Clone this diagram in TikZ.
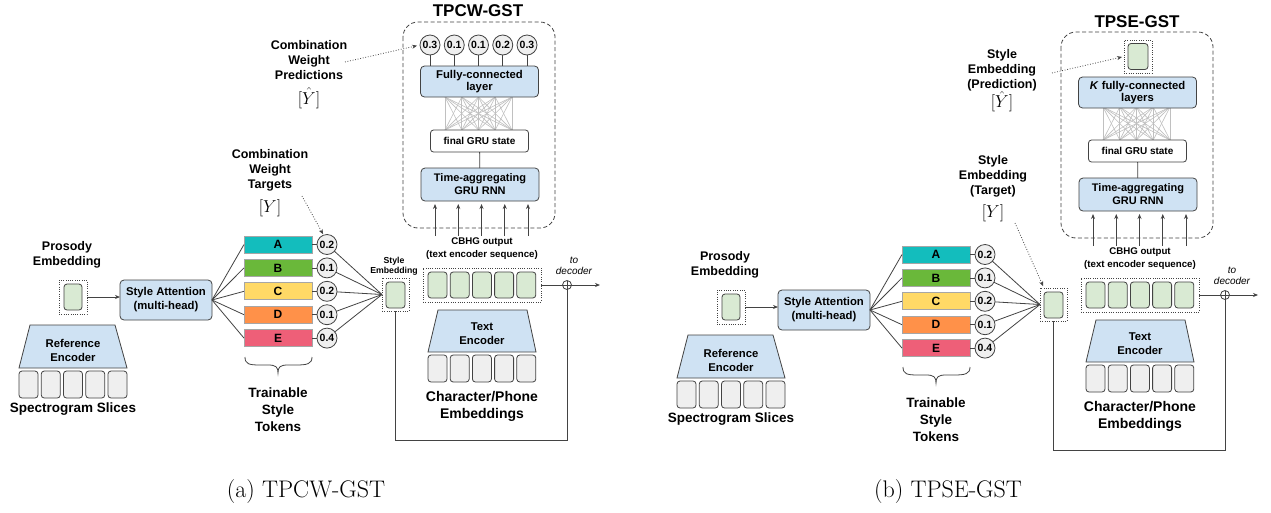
\documentclass[tikz,border=0pt]{standalone}
\usepackage[no-math]{fontspec}
\newfontfamily\af{Liberation Sans}
\usetikzlibrary{arrows.meta}
\newcommand\setfs[2]{\fontsize{#1}{#2}\selectfont}
\definecolor{emb}{HTML}{D9EAD3}
\definecolor{blu}{HTML}{CFE2F3}
\definecolor{slc}{HTML}{EFEFEF}
\definecolor{edge}{HTML}{434343}
\definecolor{tokA}{HTML}{13BDBD}
\definecolor{tokB}{HTML}{6AB83A}
\definecolor{tokC}{HTML}{FFD966}
\definecolor{tokD}{HTML}{FF9149}
\definecolor{tokE}{HTML}{EE5F78}
\definecolor{meshc}{HTML}{C0C0C0}
\tikzset{
 every node/.style={inner sep=0pt, outer sep=0pt},
 lab/.style={align=center, text=black},
 mathlab/.style={anchor=base, font=\setfs{16}{18}},
 embbox/.style={draw=edge, fill=emb, rounded corners=3pt, minimum width=19pt, minimum height=26pt, line width=0.8pt},
 slicebox/.style={draw=edge, fill=slc, rounded corners=3pt, minimum width=19pt, minimum height=27pt, line width=0.8pt},
 dotbox/.style={draw=edge, dash pattern=on 0.7pt off 1.6pt, line width=0.7pt},
 bluebox/.style={draw=edge, fill=blu, rounded corners=4pt, line width=0.8pt, align=center},
 tokbox/.style={draw=gray!70, fill=#1, minimum width=68pt, minimum height=17pt, line width=0.9pt, font=\af\bfseries\setfs{12}{14}},
 wcirc/.style={circle, draw=edge, fill=slc, minimum size=20pt, line width=0.8pt, font=\af\bfseries\setfs{10.5}{12}},
 conn/.style={draw=edge, line width=0.8pt},
 arr/.style={-{Stealth[length=5pt,width=4pt]}},
 dotarrow/.style={draw=edge, dash pattern=on 0.8pt off 1.8pt, line width=0.8pt, -{Stealth[length=5pt,width=4pt]}},
 grpbox/.style={draw=edge, dash pattern=on 4pt off 2.5pt, line width=0.8pt, rounded corners=15pt},
 trap/.style={draw=edge, fill=blu, line width=0.8pt},
}
\newcommand\panel[3]{%
\begin{scope}[shift={(#2,#3)}]
 % prosody embedding
 \node[dotbox, minimum width=28pt, minimum height=34pt] (#1pd) at (73,297) {};
 \node[embbox, minimum width=18pt] (#1pe) at (73,297) {};
 \node[lab, font=\af\bfseries\setfs{12.5}{15}] (#1pl) at (67,254.5) {Prosody\\Embedding};
 \node[bluebox, minimum width=92pt, minimum height=40pt, font=\af\bfseries\setfs{11.3}{14}] (#1att) at (166,300) {Style Attention\\(multi-head)};
 \draw[conn, arr] (#1pd.east) -- (#1pd.east -| #1att.west);
 % reference encoder
 \draw[trap] (30,325) -- (115,325) -- (127,368) -- (19,368) -- cycle;
 \node[lab, font=\af\bfseries\setfs{11.3}{14}] (#1ref) at (73,350) {Reference\\Encoder};
 \foreach \k in {0,...,4} \node[slicebox] (#1s\k) at ({28.5+22.25*\k},384.5) {};
 \node[lab, font=\af\bfseries\setfs{13.5}{16}] (#1spl) at (73,409) {Spectrogram Slices};
 % style embedding
 \node[dotbox, minimum width=27pt, minimum height=33pt] (#1sed) at (395.5,294.5) {};
 \node[embbox] (#1se) at (395.5,295) {};
 % tokens
 \foreach \L/\w [count=\i from 0] in {A/0.2,B/0.1,C/0.2,D/0.1,E/0.4} {
   \node[tokbox=tok\L] (#1tok\L) at (278,{244.5+23.4*\i}) {\L};
   \node[wcirc] (#1w\L) at (327,{244.5+23.4*\i}) {\w};
   \draw[conn] (#1tok\L) -- (#1w\L);
   \draw[conn] (#1att.east) -- (#1tok\L.west);
   \draw[conn] (#1w\L) -- (#1sed.west);
 }
 \draw[conn] (245,357) .. controls (245,364) and (249,365) .. (260,365) -- (268,365) .. controls (276,365) and (278,367) .. (278,373) .. controls (278,367) and (280,365) .. (288,365) -- (296,365) .. controls (307,365) and (312,364) .. (312,357);
 \node[lab, font=\af\bfseries\setfs{13.5}{17}] (#1tst) at (278,410) {Trainable\\Style\\Tokens};
 % encoder side
 \draw[grpbox] (403,22) rectangle (555,228);
 \foreach \i in {0,...,4} \foreach \j in {0,...,4} \draw[meshc, line width=0.6pt] ({445+16.75*\i},97) -- ({445+16.75*\j},130);
 \node[draw=edge, fill=white, rounded corners=3pt, minimum width=98pt, minimum height=22pt, line width=0.8pt, font=\af\bfseries\setfs{10}{12}] (#1gru) at (479.5,141) {final GRU state};
 \node[bluebox, minimum width=118pt, minimum height=33pt, font=\af\bfseries\setfs{11}{13}] (#1rnn) at (480,184.5) {Time-aggregating\\GRU RNN};
 \draw[conn] (#1gru) -- (#1rnn);
 \foreach \i in {0,...,4} {
   \coordinate (#1ua\i) at ({435+23.25*\i},236);
   \draw[conn, arr, shorten >=3pt] (#1ua\i) -- (#1ua\i |- #1rnn.south);
 }
 \node[lab, font=\af\bfseries\setfs{9.7}{13}] (#1cbl) at (482,248.5) {CBHG output\\(text encoder sequence)};
 \node[dotbox, minimum width=118pt, minimum height=34pt] (#1cb) at (482,285) {};
 \foreach \k in {0,...,4} \node[embbox] (#1c\k) at ({437.5+22.2*\k},285) {};
 \draw[trap] (438,310) -- (527,310) -- (536,352) -- (428,352) -- cycle;
 \node[lab, font=\af\bfseries\setfs{11.3}{13.5}] (#1tel) at (482,333.5) {Text\\Encoder};
 \foreach \k in {0,...,4} \node[slicebox] (#1ch\k) at ({437.5+22.2*\k},368.5) {};
 \node[lab, font=\af\bfseries\setfs{14}{17}] (#1chl) at (482,406.5) {Character/Phone\\Embeddings};
 \node[circle, draw=edge, fill=white, minimum size=9pt, line width=0.8pt] (#1plus) at (567,285) {};
 \draw[conn] (#1plus.north) -- (#1plus.south);
 \draw[conn] (#1plus.west) -- (#1plus.east);
 \draw[conn] (#1cb.east) -- (#1plus.west);
 \coordinate (#1out) at (600,285);
 \draw[conn, arr] (#1plus.east) -- (#1out);
 \coordinate (#1fb) at (567,440);
 \draw[conn] (#1sed.south) |- (#1fb) -- (#1plus.south);
 \node[lab, font=\af\itshape\setfs{10}{10.5}] (#1dec) at (574,266) {to\\decoder};
\end{scope}}
\begin{document}
\begin{tikzpicture}[x=1pt, y=-1pt]
\fill[white] (0,0) rectangle (1271,512);
\useasboundingbox (0,0) rectangle (1271,512);
% ---------- panel (a)
\panel{a}{0}{0}
\node[lab, font=\af\bfseries\setfs{8.7}{10}] (asel) at (394,266) {Style\\Embedding};
\node[lab, font=\af\bfseries\setfs{17}{20}] (atitle) at (478,11) {TPCW-GST};
\node[bluebox, minimum width=118pt, minimum height=31pt, font=\af\bfseries\setfs{11.3}{12.5}] (afc) at (479.5,81.5) {Fully-connected\\layer};
\foreach \v [count=\i from 0] in {0.3,0.1,0.1,0.2,0.3} {
  \node[wcirc] (ap\i) at ({430+24.25*\i},45) {\v};
  \draw[conn] (ap\i) -- (ap\i |- afc.north);
}
\node[lab, font=\af\bfseries\setfs{12.5}{15}] (aprl) at (309,60) {Combination\\Weight\\Predictions};
\node[mathlab] (aprm) at (309,104) {$[\hat{Y}]$};
\coordinate (aprs) at (345,62);
\draw[dotarrow, shorten >=3pt] (aprs) -- (ap0.west);
\node[lab, font=\af\bfseries\setfs{12.5}{15}] (atgl) at (270,170) {Combination\\Weight\\Targets};
\node[mathlab] (atgm) at (270,212) {$[Y]$};
\coordinate (atgs) at (302,196);
\draw[dotarrow, shorten >=1pt] (atgs) -- (awA.110);
\node[font=\setfs{24}{28}] (capa) at (306,492) {(a) TPCW-GST};
% ---------- panel (b)
\panel{b}{658}{10}
\begin{scope}[shift={(658,10)}]
\node[lab, font=\af\bfseries\setfs{17}{20}] (btitle) at (479,12) {TPSE-GST};
\node[bluebox, minimum width=118pt, minimum height=31pt, font=\af\bfseries\setfs{11.3}{12.5}] (bfc) at (479.5,82.5) {\textit{K} fully-connected\\layers};
\node[dotbox, minimum width=28pt, minimum height=33pt] (bpd) at (480,46.5) {};
\node[embbox, minimum width=20pt] (bpe) at (480,46.5) {};
\node[lab, font=\af\bfseries\setfs{12.5}{15}] (bprl) at (344,60) {Style\\Embedding\\(Prediction)};
\node[mathlab] (bprm) at (344,97.5) {$[\hat{Y}]$};
\coordinate (bprs) at (394,63);
\draw[dotarrow, shorten >=2pt] (bprs) -- (bpd.west);
\node[lab, font=\af\bfseries\setfs{12.5}{15}] (btgl) at (335,166) {Style\\Embedding\\(Target)};
\node[mathlab] (btgm) at (335,207) {$[Y]$};
\coordinate (btgs) at (357,213);
\draw[dotarrow, shorten >=2pt] (btgs) -- (bsed.120);
\end{scope}
\node[font=\setfs{24}{28}] (capb) at (948,492) {(b) TPSE-GST};
\end{tikzpicture}
\end{document}
